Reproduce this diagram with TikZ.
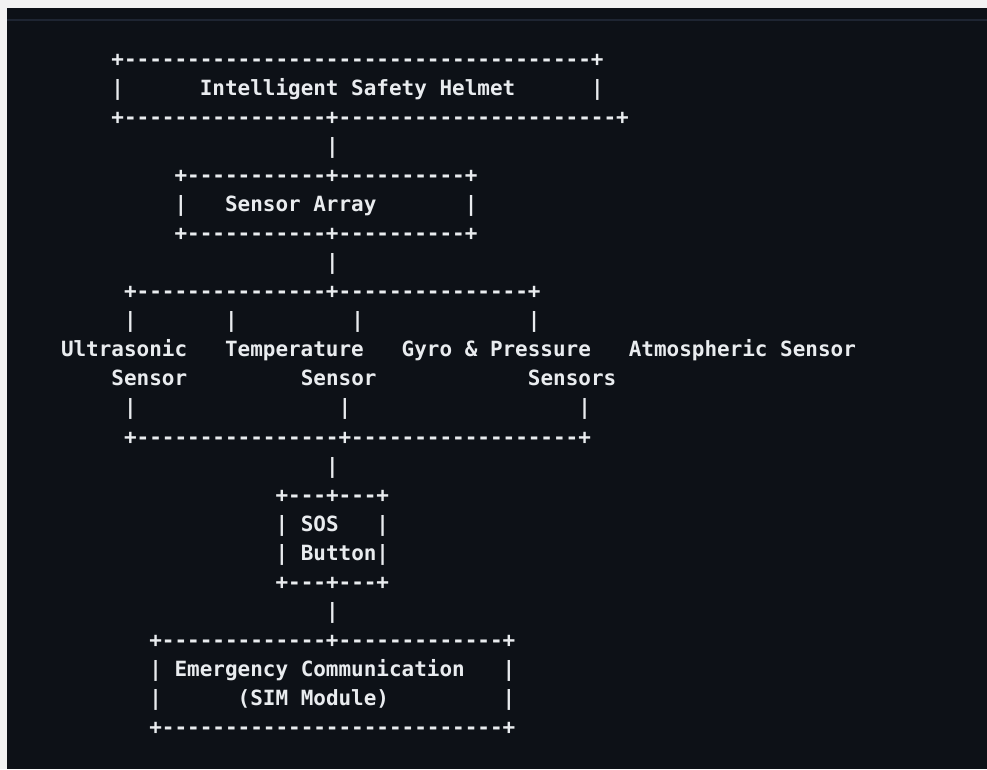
\documentclass[tikz,border=0pt]{standalone}
\usepackage{fontspec}
\setmonofont{DejaVu Sans Mono}

\definecolor{termbg}{HTML}{0D1117}
\definecolor{termfg}{HTML}{E9ECEF}
\definecolor{termrule}{HTML}{1E2532}
\definecolor{frame}{HTML}{F2F2F2}

% runs of hyphens and fixed-width blanks for the character art
\ExplSyntaxOn
\cs_new:Npn \hyrun #1 { \prg_replicate:nn {#1} { - } }
\cs_new:Npn \sprun #1 { \prg_replicate:nn {#1} { \nobreakspace } }
\ExplSyntaxOff

% one text row: name, column, row, contents
\newcommand\asciirow[4]{%
  \node[ascii] (#1) at ({61+12.62*#2},{66.5+29.04*#3}) {#4};}

\begin{document}
\begin{tikzpicture}[x=1pt,y=-1pt,
  ascii/.style={anchor=base west, inner sep=0pt, outer sep=0pt, text=termfg,
    font=\fontsize{20.96pt}{29pt}\selectfont\ttfamily\bfseries}]
\useasboundingbox (0,0) rectangle (987,769);
\fill[frame] (0,0) rectangle (987,769);
\fill[termbg] (7,8) rectangle (987,769);
\draw[termrule, line width=1.5pt] (7,20) -- (987,20);

% main unit
\asciirow{r0}{4}{0}{+\hyrun{37}+}
\asciirow{r1}{4}{1}{|\sprun{6}Intelligent Safety Helmet\sprun{6}|}
\asciirow{r2}{4}{2}{+\hyrun{16}+\hyrun{22}+}
\asciirow{r3}{21}{3}{|}

% sensor array
\asciirow{r4}{9}{4}{+\hyrun{11}+\hyrun{10}+}
\asciirow{r5}{9}{5}{|\sprun{3}Sensor Array\sprun{7}|}
\asciirow{r6}{9}{6}{+\hyrun{11}+\hyrun{10}+}
\asciirow{r7}{21}{7}{|}

% sensor branches
\asciirow{r8}{5}{8}{+\hyrun{15}+\hyrun{15}+}
\asciirow{r9a}{5}{9}{|}
\asciirow{r9b}{13}{9}{|}
\asciirow{r9c}{23}{9}{|}
\asciirow{r9d}{37}{9}{|}
\asciirow{r10}{0}{10}{Ultrasonic\sprun{3}Temperature\sprun{3}Gyro \& Pressure\sprun{3}Atmospheric Sensor}
\asciirow{r11a}{4}{11}{Sensor}
\asciirow{r11b}{19}{11}{Sensor}
\asciirow{r11c}{37}{11}{Sensors}
\asciirow{r12a}{5}{12}{|}
\asciirow{r12b}{22}{12}{|}
\asciirow{r12c}{41}{12}{|}
\asciirow{r13}{5}{13}{+\hyrun{16}+\hyrun{18}+}
\asciirow{r14}{21}{14}{|}

% SOS button
\asciirow{r15}{17}{15}{+\hyrun{3}+\hyrun{3}+}
\asciirow{r16}{17}{16}{| SOS\sprun{3}|}
\asciirow{r17}{17}{17}{| Button|}
\asciirow{r18}{17}{18}{+\hyrun{3}+\hyrun{3}+}
\asciirow{r19}{21}{19}{|}

% emergency communication
\asciirow{r20}{7}{20}{+\hyrun{13}+\hyrun{13}+}
\asciirow{r21}{7}{21}{| Emergency Communication\sprun{3}|}
\asciirow{r22}{7}{22}{|\sprun{6}(SIM Module)\sprun{9}|}
\asciirow{r23}{7}{23}{+\hyrun{27}+}
\end{tikzpicture}
\end{document}
